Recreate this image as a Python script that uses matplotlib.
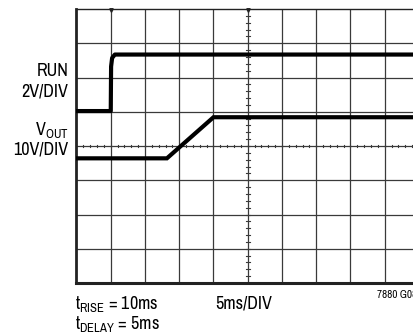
import matplotlib
matplotlib.use("Agg")
import matplotlib.pyplot as plt
import numpy as np

plt.rcParams['font.family'] = ['Archivo Narrow', 'DejaVu Sans']
plt.rcParams['mathtext.fontset'] = 'custom'
plt.rcParams['mathtext.rm'] = 'Archivo Narrow'

# scope traces, time in ms, levels in volts
t_run = [0, 5.0, 5.05, 5.2, 5.6, 50]
run_v = [0, 0, 2.6, 3.1, 3.3, 3.3]
t_vout = [0, 13.2, 20.0, 50]
vout_v = [0, 0, 12, 12]

run_scale = 2.0     # V/div
vout_scale = 10.0   # V/div
run_gnd = 5.02      # ground position in divisions
vout_gnd = 3.64

ms_per_div = 5
n_xdiv = 10
n_ydiv = 8

W, H = 414, 333
fig = plt.figure(figsize=(W / 100, H / 100), dpi=100)
left, right, top, bottom = 76.5, 419.0, 9.0, 283.0
ax = fig.add_axes([left / W, 1 - bottom / H, (right - left) / W, (bottom - top) / H])
ax.set_xlim(0, n_xdiv * ms_per_div)
ax.set_ylim(0, n_ydiv)
ax.set_xticks([])
ax.set_yticks([])

grid_c = '#3a3a3a'
for i in range(1, n_xdiv):
    ax.axvline(i * ms_per_div, color=grid_c, lw=0.9, zorder=1)
for j in range(1, n_ydiv):
    ax.axhline(j, color=grid_c, lw=0.9, zorder=1)

# minor ticks on the centre lines
xc = n_xdiv * ms_per_div / 2
yc = n_ydiv / 2
for k in np.arange(0, n_ydiv, 0.2):
    ax.plot([xc - 0.3, xc + 0.3], [k, k], color=grid_c, lw=0.8, zorder=1)
for k in np.arange(0, n_xdiv * ms_per_div, 1.0):
    ax.plot([k, k], [yc - 0.04, yc + 0.04], color=grid_c, lw=0.8, zorder=1)

ax.spines['right'].set_visible(False)
ax.spines['left'].set_linewidth(2.0)
ax.spines['bottom'].set_linewidth(2.2)
ax.spines['top'].set_linewidth(1.0)
for s in ax.spines.values():
    s.set_color('#222222')

# trigger markers on the top edge
ax.plot([5, 25], [n_ydiv - 0.03, n_ydiv - 0.03], 'v', color='#222222', ms=2.5, clip_on=False)

run_y = run_gnd + np.array(run_v) / run_scale
vout_y = vout_gnd + np.array(vout_v) / vout_scale
ax.plot(t_run, run_y, color='black', lw=3.0, solid_joinstyle='round', zorder=3)
ax.plot(t_vout, vout_y, color='black', lw=3.0, solid_joinstyle='miter', zorder=3)


def ft(x, y, s, **kw):
    fig.text(x / W, 1 - y / H, s, va='baseline', **kw)


fs = 13
ft(68.5, 75.7, 'RUN', ha='right', fontsize=fs)
ft(68.5, 96.7, '2V/DIV', ha='right', fontsize=fs)
ft(68.5, 135, r'V$_{\mathregular{OUT}}$', ha='right', fontsize=fs)
ft(68.5, 154, '10V/DIV', ha='right', fontsize=fs)
ft(75, 309, r't$_{\mathregular{RISE}}$ = 10ms', ha='left', fontsize=fs)
ft(75, 328.5, r't$_{\mathregular{DELAY}}$ = 5ms', ha='left', fontsize=fs)
ft(215.5, 308.5, '5ms/DIV', ha='left', fontsize=fs)
ft(377, 298, '7880 G08', ha='left', fontsize=8)

fig.savefig('out.png', dpi=100)
